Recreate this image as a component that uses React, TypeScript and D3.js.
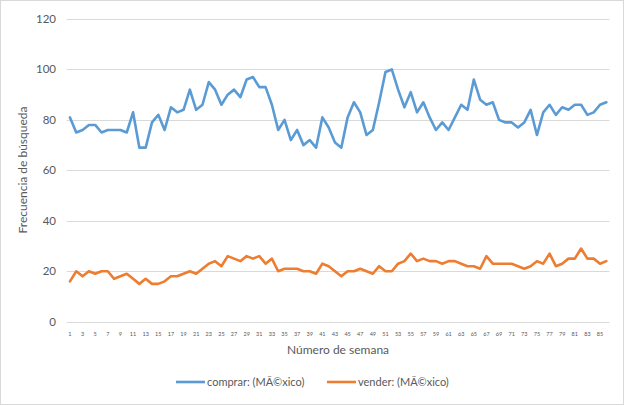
import React from "react";
import * as d3 from "d3";

const weeks: number[] = Array.from({ length: 86 }, (_, i) => i + 1);
const comprar: number[] = [
  81, 75, 76, 78, 78, 75, 76, 76, 76, 75,
  83, 69, 69, 79, 82, 76, 85, 83, 84, 92,
  84, 86, 95, 92, 86, 90, 92, 89, 96, 97,
  93, 93, 86, 76, 80, 72, 76, 70, 72, 69,
  81, 77, 71, 69, 81, 87, 83, 74, 76, 87,
  99, 100, 92, 85, 91, 83, 87, 81, 76, 79,
  76, 81, 86, 84, 96, 88, 86, 87, 80, 79,
  79, 77, 79, 84, 74, 83, 86, 82, 85, 84,
  86, 86, 82, 83, 86, 87,
];
const vender: number[] = [
  16, 20, 18, 20, 19, 20, 20, 17, 18, 19,
  17, 15, 17, 15, 15, 16, 18, 18, 19, 20,
  19, 21, 23, 24, 22, 26, 25, 24, 26, 25,
  26, 23, 25, 20, 21, 21, 21, 20, 20, 19,
  23, 22, 20, 18, 20, 20, 21, 20, 19, 22,
  20, 20, 23, 24, 27, 24, 25, 24, 24, 23,
  24, 24, 23, 22, 22, 21, 26, 23, 23, 23,
  23, 22, 21, 22, 24, 23, 27, 22, 23, 25,
  25, 29, 25, 25, 23, 24,
];
const yTicks: number[] = [0, 20, 40, 60, 80, 100, 120];
const seriesNames: string[] = ["comprar: (MÃ©xico)", "vender: (MÃ©xico)"];
const seriesColors: string[] = ["#5B9BD5", "#ED7D31"];

const W = 624;
const H = 405;
const FONT = "Lato, 'Open Sans', sans-serif";

export default function App() {
  const x = d3
    .scaleBand<number>()
    .domain(weeks)
    .range([66.8, 609.5]);
  const y = d3.scaleLinear().domain([0, 120]).range([321.7, 19]);
  const cx = (w: number) => (x(w) as number) + x.bandwidth() / 2;
  const line = d3
    .line<number>()
    .x((_, i) => cx(weeks[i]))
    .y((d) => y(d));
  const series = [comprar, vender];
  const legendX = [176, 327];

  return (
    <svg
      width={W}
      height={H}
      style={{ position: "absolute", left: 0, top: 0, background: "#fff" }}
      fontFamily={FONT}
    >
      <rect x={0.5} y={0.5} width={W - 1} height={H - 1} fill="#fff" stroke="#d9d9d9" />
      {yTicks.map((t) => (
        <g key={t}>
          <line
            x1={66.8}
            x2={609.5}
            y1={Math.round(y(t)) + 0.5}
            y2={Math.round(y(t)) + 0.5}
            stroke="#d9d9d9"
            strokeWidth={1}
          />
          <text
            x={56}
            y={y(t)}
            dy="0.35em"
            textAnchor="end"
            fontSize={11.5}
            fill="#595959"
          >
            {t}
          </text>
        </g>
      ))}
      {weeks
        .filter((w) => w % 2 === 1)
        .map((w) => (
          <text
            key={w}
            x={cx(w)}
            y={336}
            textAnchor="middle"
            fontSize={5.5}
            fill="#595959"
          >
            {w}
          </text>
        ))}
      {series.map((s, k) => (
        <path
          key={k}
          d={line(s) || ""}
          fill="none"
          stroke={seriesColors[k]}
          strokeWidth={2.6}
          strokeLinejoin="round"
          strokeLinecap="round"
        />
      ))}
      <text
        x={338}
        y={354}
        textAnchor="middle"
        fontSize={12}
        fill="#595959"
      >
        Número de semana
      </text>
      <text
        transform={`translate(27,170) rotate(-90)`}
        textAnchor="middle"
        fontSize={12}
        fill="#595959"
      >
        Frecuencia de búsqueda
      </text>
      {seriesNames.map((n, k) => (
        <g key={n}>
          <line
            x1={legendX[k]}
            x2={legendX[k] + 29}
            y1={382}
            y2={382}
            stroke={seriesColors[k]}
            strokeWidth={2.6}
          />
          <text
            x={legendX[k] + 31}
            y={382}
            dy="0.35em"
            fontSize={11}
            fill="#595959"
          >
            {n}
          </text>
        </g>
      ))}
    </svg>
  );
}
